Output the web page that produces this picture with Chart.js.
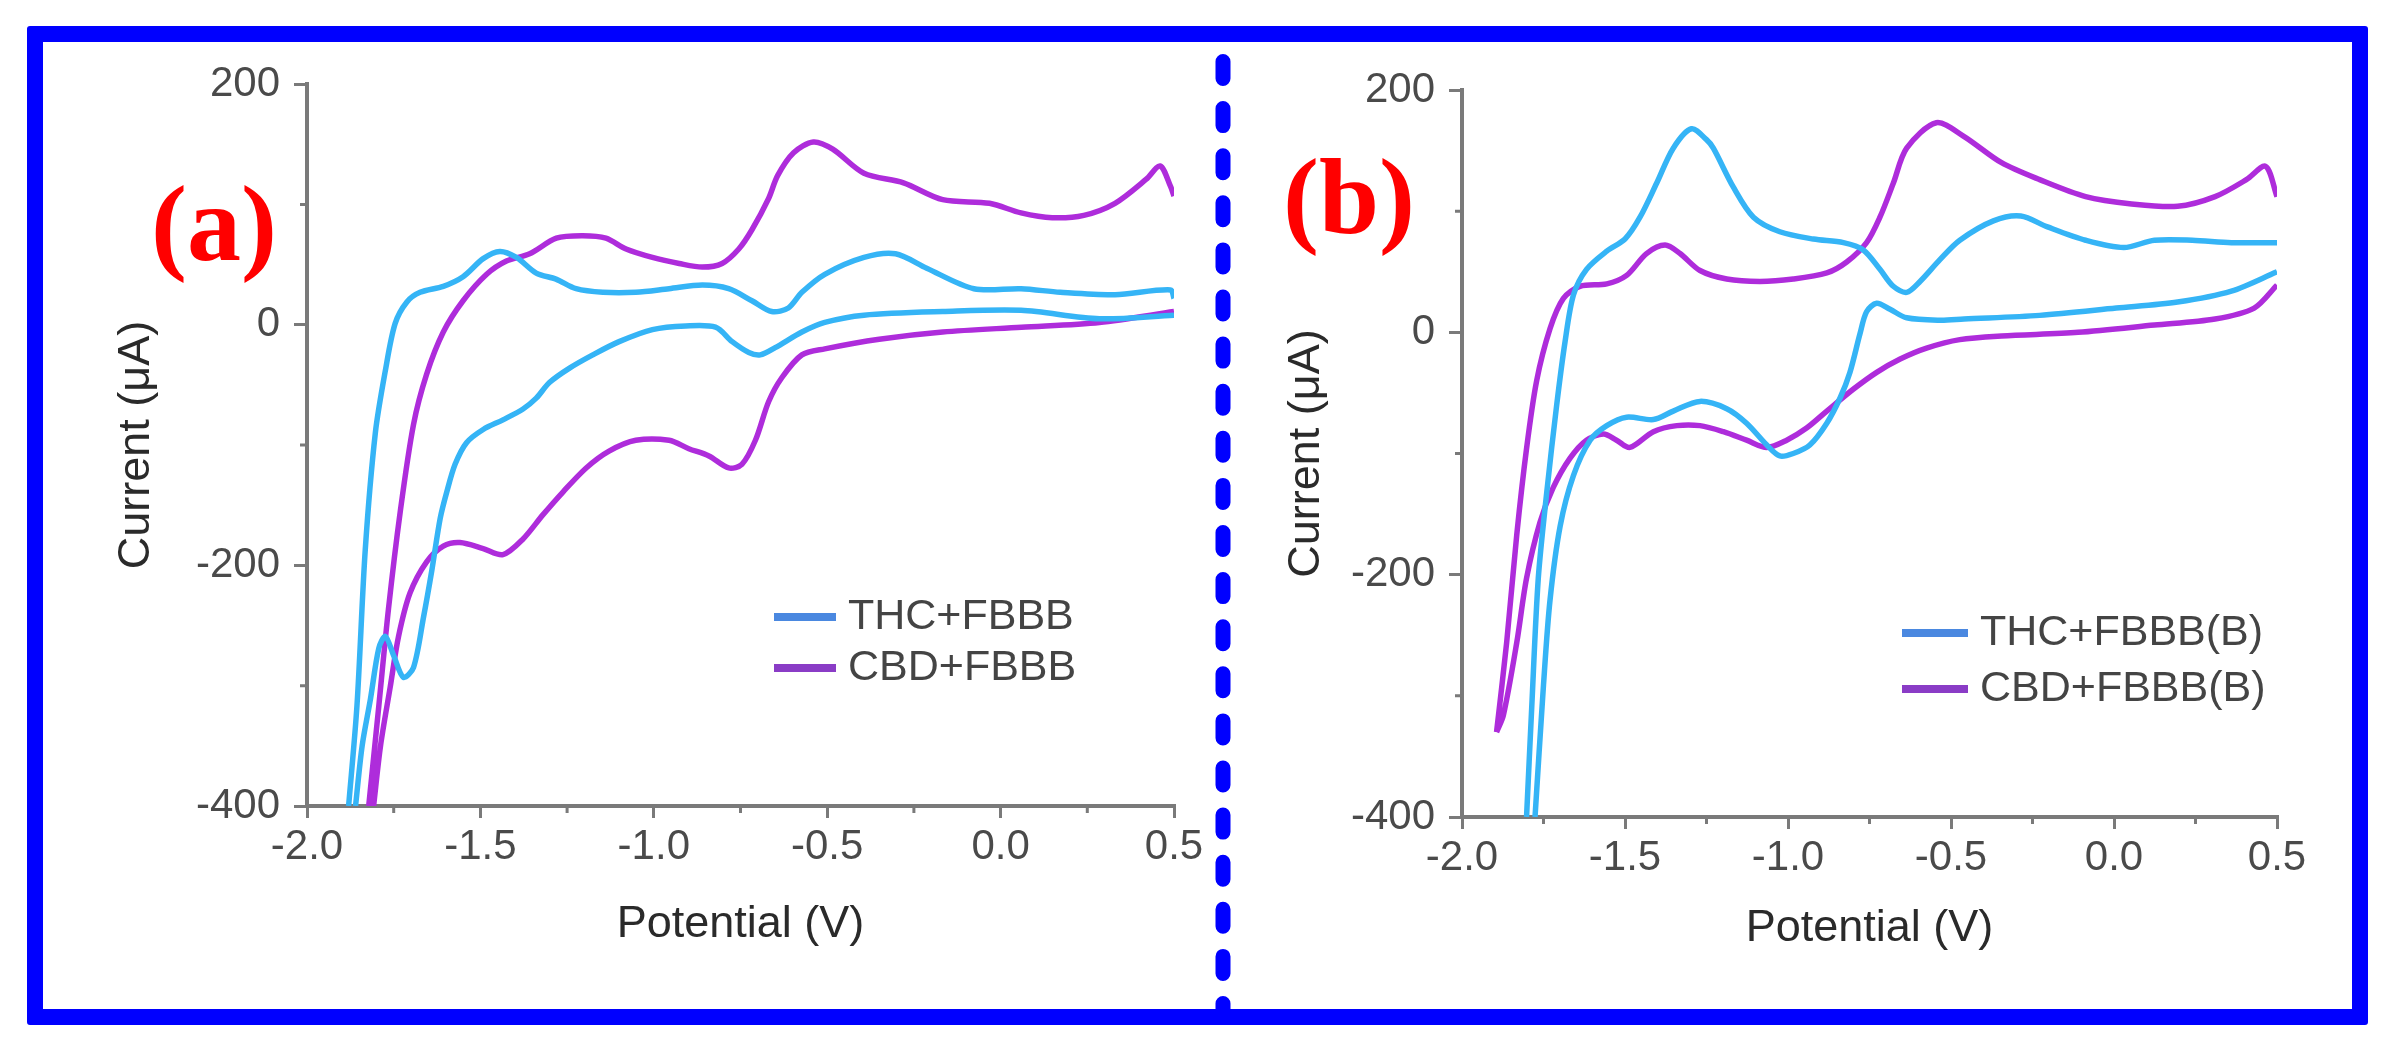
<!DOCTYPE html>
<html>
<head>
<meta charset="utf-8">
<script src="https://cdn.jsdelivr.net/npm/chart.js@4.4.1/dist/chart.umd.min.js"></script>
<style>
  html, body { margin: 0; padding: 0; background: #fff; }
  body { width: 2396px; height: 1061px; position: relative; overflow: hidden; }
  #frame { position: absolute; left: 27px; top: 26px; width: 2341px; height: 999px;
           box-sizing: border-box; border: 16px solid #0000ff; border-radius: 3px; }
  .panel { position: absolute; }
  .tag { position: absolute; font-family: "Liberation Serif", "Times New Roman", serif;
         font-weight: bold; font-size: 108px; line-height: 1; color: #ff0000; }
  #divider { position: absolute; left: 1215px; top: 40px; }
</style>
</head>
<body>
<div id="frame"></div>
<svg id="divider" width="16" height="985">
  <line x1="8" y1="21.5" x2="8" y2="975" stroke="#0000ff" stroke-width="15"
        stroke-linecap="round" stroke-dasharray="17 30.1"></line>
</svg>
<canvas id="chartA" class="panel" width="1180" height="960" style="left:30px;top:45px"></canvas>
<canvas id="chartB" class="panel" width="1080" height="960" style="left:1240px;top:45px"></canvas>
<div class="tag" style="left:151px;top:170px">(a)</div>
<div class="tag" style="left:1283px;top:143px">(b)</div>
<script>
// axis ticks
const xTickVals = [-2.0, -1.5, -1.0, -0.5, 0.0, 0.5];
const xMinorVals = [-1.75, -1.25, -0.75, -0.25, 0.25];
const yTickVals = [-400, -200, 0, 200];
const yMinorVals = [-300, -100, 100];

// panel (a): cyclic voltammograms, potential (V) vs current (uA)
// null splits the anodic and cathodic branches at the switching potential
const thcA_V = [-1.88, -1.856, -1.832, -1.803, -1.774, -1.746, -1.712, -1.674, -1.607, -1.55, -1.492, -1.444, -1.396, -1.339, -1.282, -1.224, -1.147, -1.052, -0.956, -0.86, -0.784, -0.717, -0.66, -0.612, -0.573, -0.507, -0.394, -0.303, -0.213, -0.077, 0.059, 0.172, 0.33, 0.49, 0.5, null,
  0.5, 0.285, 0.059, -0.167, -0.394, -0.507, -0.573, -0.65, -0.693, -0.726, -0.774, -0.822, -0.908, -1.004, -1.1, -1.176, -1.243, -1.301, -1.339, -1.377, -1.435, -1.492, -1.54, -1.573, -1.597, -1.616, -1.64, -1.664, -1.693, -1.722, -1.75, -1.774, -1.793, -1.817, -1.841, -1.86];
const thcA_I = [-400, -317, -187, -90, -38, 1, 19, 27, 32, 40, 55, 61, 56, 43, 38, 30, 27, 27, 30, 33, 30, 20, 11, 14, 27, 42, 56, 59, 47, 30, 30, 27, 25, 29, 22, null,
  8, 5, 12, 11, 8, 2, -6, -19, -25, -23, -14, -2, -1, -4, -14, -25, -36, -48, -61, -70, -79, -87, -98, -116, -139, -161, -204, -243, -285, -293, -275, -259, -269, -311, -350, -400];

const cbdA_V = [-1.822, -1.793, -1.765, -1.731, -1.693, -1.655, -1.607, -1.55, -1.482, -1.425, -1.358, -1.281, -1.205, -1.138, -1.08, -1.004, -0.927, -0.86, -0.803, -0.755, -0.717, -0.669, -0.643, -0.597, -0.54, -0.484, -0.394, -0.28, -0.167, -0.032, 0.059, 0.149, 0.24, 0.33, 0.42, 0.46, 0.49, 0.5, null,
  0.5, 0.285, 0.06, -0.167, -0.35, -0.507, -0.573, -0.631, -0.669, -0.707, -0.746, -0.784, -0.841, -0.899, -0.956, -1.052, -1.129, -1.195, -1.262, -1.32, -1.377, -1.435, -1.492, -1.559, -1.607, -1.655, -1.703, -1.736, -1.76, -1.788, -1.808];
const cbdA_I = [-400, -317, -236, -155, -83, -41, -6, 20, 42, 53, 59, 72, 74, 72, 63, 56, 51, 48, 51, 63, 79, 105, 124, 143, 152, 146, 126, 118, 104, 101, 93, 89, 91, 101, 121, 132, 115, 107, null,
  11, 2, -2, -6, -12, -20, -25, -44, -64, -96, -116, -119, -109, -103, -96, -96, -105, -119, -139, -158, -178, -191, -186, -181, -184, -197, -223, -259, -301, -350, -400];

// panel (b)
const thcB_V = [-1.802, -1.786, -1.766, -1.74, -1.71, -1.684, -1.658, -1.618, -1.556, -1.5, -1.454, -1.403, -1.352, -1.296, -1.25, -1.229, -1.168, -1.106, -1.025, -0.922, -0.83, -0.769, -0.718, -0.677, -0.636, -0.595, -0.534, -0.473, -0.37, -0.286, -0.204, -0.087, 0.03, 0.124, 0.24, 0.36, 0.5, null,
  0.5, 0.36, 0.195, 0.007, -0.228, -0.46, -0.534, -0.636, -0.687, -0.728, -0.759, -0.779, -0.81, -0.84, -0.881, -0.933, -0.984, -1.025, -1.065, -1.127, -1.188, -1.27, -1.352, -1.413, -1.495, -1.556, -1.607, -1.658, -1.699, -1.73, -1.75, -1.776];
const thcB_I = [-400, -309, -203, -132, -61, -8, 31, 52, 67, 77, 95, 123, 152, 168, 159, 152, 120, 95, 83, 77, 74, 68, 52, 38, 33, 42, 60, 76, 92, 96, 87, 76, 70, 76, 76, 74, 74, null,
  50, 34, 25, 20, 14, 11, 10, 12, 19, 24, 17, -1, -33, -54, -75, -93, -100, -102, -93, -75, -63, -57, -65, -72, -70, -77, -89, -118, -160, -221, -291, -400];

const cbdB_V = [-1.894, -1.863, -1.832, -1.802, -1.771, -1.73, -1.689, -1.638, -1.556, -1.495, -1.434, -1.377, -1.331, -1.27, -1.188, -1.086, -0.984, -0.881, -0.82, -0.759, -0.718, -0.677, -0.636, -0.545, -0.462, -0.345, -0.228, -0.087, 0.054, 0.195, 0.31, 0.406, 0.465, 0.5, null,
  0.5, 0.43, 0.31, 0.124, -0.11, -0.345, -0.473, -0.575, -0.656, -0.728, -0.8, -0.881, -0.943, -1.004, -1.065, -1.127, -1.198, -1.27, -1.341, -1.413, -1.485, -1.526, -1.566, -1.618, -1.669, -1.72, -1.761, -1.802, -1.832, -1.873, -1.894];
const cbdB_I = [-330, -256, -167, -96, -40, 3, 28, 38, 40, 47, 65, 72, 65, 51, 44, 42, 44, 49, 58, 74, 95, 123, 152, 173, 162, 140, 126, 112, 106, 104, 112, 126, 137, 112, null,
  39, 20, 11, 6, 0, -3, -6, -13, -22, -33, -47, -65, -79, -89, -95, -89, -82, -77, -77, -82, -95, -89, -84, -89, -104, -128, -157, -203, -256, -316, -330];

const CYAN = '#35b4f6';
const PURPLE = '#ae2cdb';
const AXIS_GRAY = '#7a7a7a';

Chart.defaults.font.family = '"Liberation Sans", Arial, sans-serif';
Chart.defaults.color = '#555';

const toPoints = (vs, is) => vs.map((v, i) => ({ x: v, y: is[i] }));

// short unlabeled ticks between the major ones
const minorTicks = {
  id: 'minorTicks',
  afterDraw(chart) {
    const { ctx, chartArea, scales } = chart;
    ctx.save();
    ctx.strokeStyle = AXIS_GRAY;
    ctx.lineWidth = 3;
    ctx.beginPath();
    xMinorVals.forEach(v => {
      const px = scales.x.getPixelForValue(v);
      ctx.moveTo(px, chartArea.bottom);
      ctx.lineTo(px, chartArea.bottom + 7);
    });
    yMinorVals.forEach(v => {
      const py = scales.y.getPixelForValue(v);
      ctx.moveTo(chartArea.left, py);
      ctx.lineTo(chartArea.left - 7, py);
    });
    ctx.stroke();
    ctx.restore();
  }
};

// legend drawn inside the plot area
const legendBox = {
  id: 'legendBox',
  afterDraw(chart, args, opts) {
    const ctx = chart.ctx;
    ctx.save();
    ctx.font = '43px "Liberation Sans", Arial, sans-serif';
    ctx.textBaseline = 'middle';
    chart.data.datasets.forEach((ds, i) => {
      const y = opts.y + i * opts.gap;
      ctx.strokeStyle = opts.colors[i];
      ctx.lineWidth = 8;
      ctx.beginPath();
      ctx.moveTo(opts.x, y);
      ctx.lineTo(opts.x + opts.len, y);
      ctx.stroke();
      ctx.fillStyle = '#444';
      ctx.fillText(ds.label, opts.x + opts.len + 12, y);
    });
    ctx.restore();
  }
};

function makeChart(id, sets, geo) {
  return new Chart(document.getElementById(id), {
    type: 'scatter',
    data: {
      datasets: sets.map(s => ({
        label: s.label,
        data: s.data,
        showLine: true,
        spanGaps: false,
        borderColor: s.color,
        backgroundColor: s.color,
        borderWidth: 5.5,
        pointRadius: 0,
        tension: 0.3
      }))
    },
    options: {
      responsive: false,
      animation: false,
      devicePixelRatio: 1,
      layout: { padding: { left: 0, top: geo.top, right: geo.right, bottom: 0 } },
      plugins: {
        legend: { display: false },
        tooltip: { enabled: false },
        legendBox: geo.legend
      },
      scales: {
        x: {
          type: 'linear',
          min: -2, max: 0.5,
          afterBuildTicks: s => { s.ticks = xTickVals.map(v => ({ value: v })); },
          afterFit: s => { s.height = geo.xHeight; },
          ticks: { font: { size: 42 }, color: '#4a4a4a', padding: 4, maxRotation: 0,
                   callback: v => Number(v).toFixed(1) },
          grid: { drawOnChartArea: false, drawTicks: true, tickLength: 12, color: AXIS_GRAY, lineWidth: 3 },
          border: { display: true, color: AXIS_GRAY, width: 4 },
          title: { display: true, text: 'Potential (V)', color: '#2a2a2a',
                   font: { size: 45 }, padding: { top: 0, bottom: geo.xTitlePad } }
        },
        y: {
          type: 'linear',
          min: -400, max: 200,
          afterBuildTicks: s => { s.ticks = yTickVals.map(v => ({ value: v })); },
          afterFit: s => { s.width = geo.yWidth; },
          ticks: { font: { size: 42 }, color: '#4a4a4a', padding: 14, callback: v => String(v) },
          grid: { drawOnChartArea: false, drawTicks: true, tickLength: 13, color: AXIS_GRAY, lineWidth: 3 },
          border: { display: true, color: AXIS_GRAY, width: 4 },
          title: { display: true, text: 'Current (\u03bcA)', color: '#2a2a2a',
                   font: { size: 45 }, padding: { top: geo.yTitlePad, bottom: 0 } }
        }
      }
    },
    plugins: [minorTicks, legendBox]
  });
}

makeChart('chartA', [
  { label: 'THC+FBBB', data: toPoints(thcA_V, thcA_I), color: CYAN },
  { label: 'CBD+FBBB', data: toPoints(cbdA_V, cbdA_I), color: PURPLE }
], {
  top: 38, right: 36, yWidth: 277, xHeight: 199, yTitlePad: 80, xTitlePad: 53,
  legend: { x: 744, y: 572, gap: 51, len: 62, colors: ['#4a88e0', '#8a3cc6'] }
});

makeChart('chartB', [
  { label: 'THC+FBBB(B)', data: toPoints(thcB_V, thcB_I), color: CYAN },
  { label: 'CBD+FBBB(B)', data: toPoints(cbdB_V, cbdB_I), color: PURPLE }
], {
  top: 45, right: 43, yWidth: 222, xHeight: 188, yTitlePad: 40, xTitlePad: 49,
  legend: { x: 662, y: 588, gap: 56, len: 66, colors: ['#4a88e0', '#8a3cc6'] }
});
</script>
</body>
</html>
